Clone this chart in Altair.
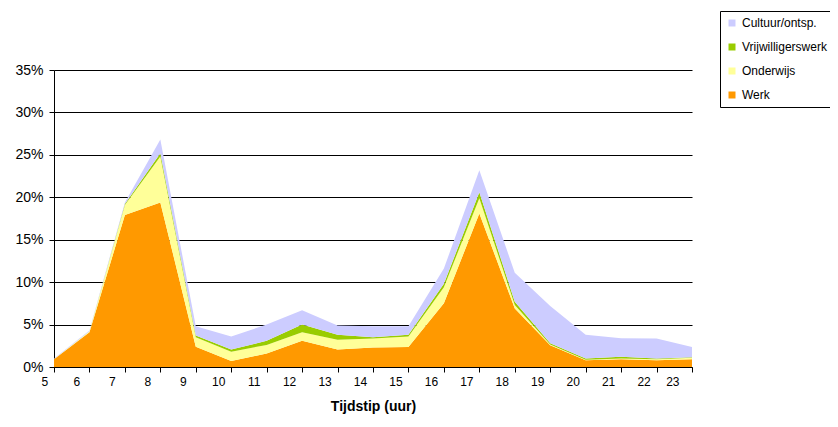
import altair as alt
import pandas as pd

hours = list(range(5, 24))
werk = [0.9, 4.1, 17.9, 19.4, 2.4, 0.7, 1.6, 3.1, 2.05, 2.3, 2.35, 7.5, 18.1, 6.9, 2.55, 0.8, 0.9, 0.8, 0.9]
onderwijs = [0.05, 0.1, 1.2, 5.4, 1.1, 1.1, 1.0, 1.0, 1.15, 1.05, 1.25, 1.9, 1.8, 0.4, 0.1, 0.05, 0.1, 0.1, 0.2]
vrijwillig = [0.0, 0.0, 0.1, 0.4, 0.2, 0.25, 0.5, 0.9, 0.6, 0.15, 0.2, 0.4, 0.7, 0.4, 0.15, 0.15, 0.2, 0.1, 0.05]
cultuur = [0.05, 0.1, 0.2, 1.6, 1.1, 1.55, 1.9, 1.7, 1.1, 1.3, 1.0, 1.8, 2.6, 3.4, 4.4, 2.8, 2.2, 2.35, 1.2]

series = ["Werk", "Onderwijs", "Vrijwilligerswerk", "Cultuur/ontsp."]
colors = {"Cultuur/ontsp.": "#CCCCFF", "Vrijwilligerswerk": "#99CC00",
          "Onderwijs": "#FFFF99", "Werk": "#FF9900"}
legend_order = ["Cultuur/ontsp.", "Vrijwilligerswerk", "Onderwijs", "Werk"]

rows = []
for i, h in enumerate(hours):
    for k, (name, vals) in enumerate(zip(series, [werk, onderwijs, vrijwillig, cultuur])):
        rows.append({"uur": h, "reeks": name, "waarde": vals[i] / 100, "volgorde": k})
df = pd.DataFrame(rows)

font = "Liberation Sans"

area = alt.Chart(df).mark_area(opacity=1, interpolate="linear").encode(
    x=alt.X("uur:Q", scale=alt.Scale(domain=[5, 23], nice=False, zero=False),
            axis=alt.Axis(title="Tijdstip (uur)", values=hours, format="d", grid=False,
                          domainColor="black", tickColor="black", tickSize=5,
                          labelOffset=-13, labelFontSize=12, labelFont=font, labelColor="black",
                          labelPadding=4, titleFont=font, titleFontSize=14, titleFontWeight="bold",
                          titleColor="black", titlePadding=12)),
    y=alt.Y("waarde:Q", stack="zero", scale=alt.Scale(domain=[0, 0.35], nice=False),
            axis=alt.Axis(title=None, values=[0, 0.05, 0.1, 0.15, 0.2, 0.25, 0.3, 0.35],
                          format=".0%", grid=True, gridColor="black", gridOpacity=1, gridWidth=1,
                          domainColor="black", tickColor="black", tickSize=5,
                          labelFontSize=14, labelFont=font, labelColor="black", labelPadding=6)),
    color=alt.Color("reeks:N", scale=alt.Scale(domain=legend_order,
                                                range=[colors[s] for s in legend_order]),
                    legend=alt.Legend(title=None, orient="none", legendX=666, legendY=-59,
                                      symbolType="square", symbolSize=49, symbolStrokeWidth=0,
                                      labelFont=font, labelFontSize=12, labelColor="black",
                                      labelOffset=4,
                                      rowPadding=12, strokeColor="black", fillColor="white",
                                      padding=6, labelLimit=300)),
    order=alt.Order("volgorde:Q", sort="ascending"),
)

chart = area.properties(
    width=638, height=297,
    autosize=alt.AutoSizeParams(type="none"),
    padding={"left": 46, "top": 62, "right": 138, "bottom": 52},
).configure_view(stroke=None).configure_axis(domainWidth=1)

chart.save("out.html", embed_options={"renderer": "svg", "actions": False})
